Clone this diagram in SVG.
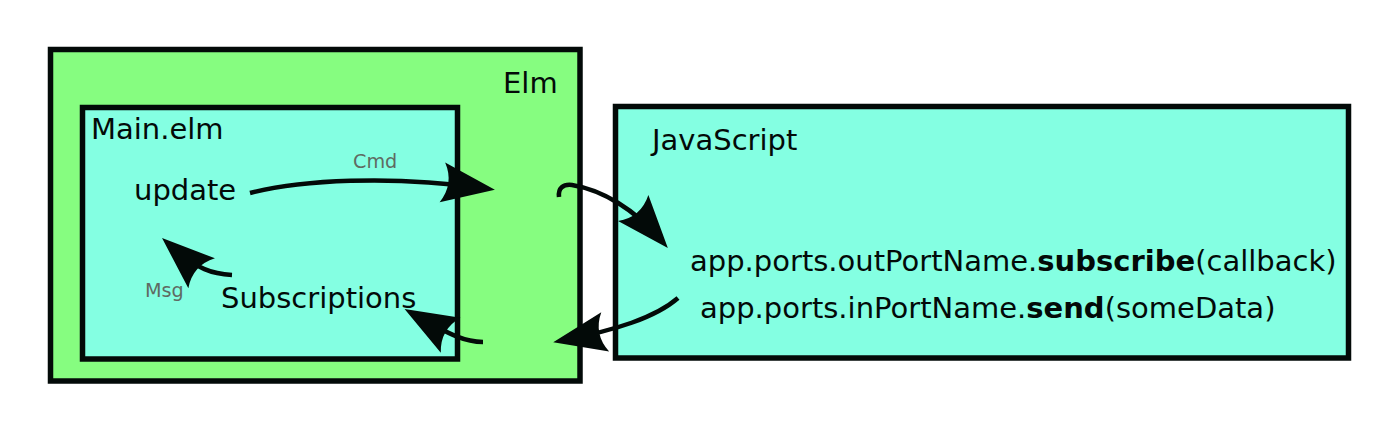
<svg xmlns="http://www.w3.org/2000/svg" width="1400" height="433" viewBox="0 0 1400 433">
  <style>
    .box { stroke: #030a08; stroke-width: 5.5; }
    .elm { fill: #86fd80; }
    .cyan { fill: #84ffe2; }
    .t { font-family: "DejaVu Sans", sans-serif; font-size: 29px; fill: #030a08; }
    .lbl { font-family: "DejaVu Sans", sans-serif; font-size: 19.2px; fill: #5f6b62; }
    .b { font-weight: bold; }
    .conn { fill: none; stroke: #030a08; stroke-width: 4.5; stroke-linecap: butt; }
  </style>
  <defs>
    <marker id="ah" markerUnits="userSpaceOnUse" viewBox="-58 -26 62 52" markerWidth="62" markerHeight="52" refX="-12" refY="0" orient="auto" overflow="visible">
      <path d="M0,0 L-53,-20 Q-41,0 -53,20 Z" fill="#030a08"/>
    </marker>
  </defs>
  <rect width="1400" height="433" fill="#ffffff"/>
  <g id="elm">
    <rect class="box elm" x="50.5" y="49.5" width="529.5" height="331.5"/>
    <text class="t" x="503" y="92.5">Elm</text>
  </g>
  <g id="main-elm">
    <rect class="box cyan" x="82.5" y="107.5" width="375" height="251.5"/>
    <text class="t" x="91" y="139">Main.elm</text>
  </g>
  <g id="update">
    <text class="t" x="134" y="200">update</text>
  </g>
  <g id="subscriptions">
    <text class="t" x="221" y="308">Subscriptions</text>
  </g>
  <g id="javascript">
    <rect class="box cyan" x="615.5" y="106.5" width="733" height="251.5"/>
    <text class="t" x="652" y="150">JavaScript</text>
  </g>
  <g id="subscribe">
    <text class="t" x="690" y="271">app.ports.outPortName.<tspan class="b">subscribe</tspan>(callback)</text>
  </g>
  <g id="send">
    <text class="t" x="700" y="318">app.ports.inPortName.<tspan class="b">send</tspan>(someData)</text>
  </g>
  <g id="connectors">
    <path class="conn" marker-end="url(#ah)" d="M250,193 C300,180 390,175 483,188"/>
    <text class="lbl" x="353" y="168">Cmd</text>
    <path class="conn" marker-end="url(#ah)" d="M232,275 C213,274 198,270 171,246"/>
    <text class="lbl" x="145" y="297">Msg</text>
    <path class="conn" marker-end="url(#ah)" d="M483,342 C466,342 452,336 415,315"/>
    <path class="conn" marker-end="url(#ah)" d="M559,197 C558,188 563,184 572,185 C603,190 635,210 660,239"/>
    <path class="conn" marker-end="url(#ah)" d="M678,298 C655,318 615,330 565,340"/>
  </g>
</svg>
